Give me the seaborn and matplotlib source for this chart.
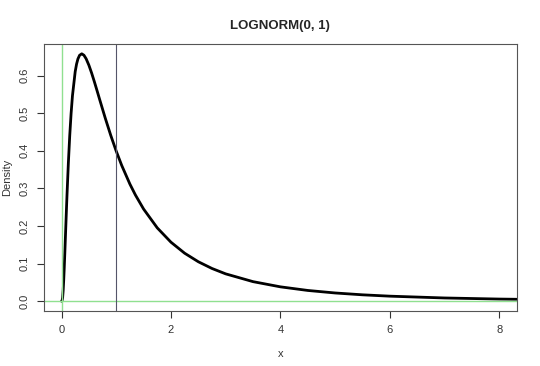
"""Lognormal density plot, R base style"""

import matplotlib
matplotlib.use("Agg")
import matplotlib.pyplot as plt
import seaborn as sns
import pandas as pd

# density values
x_vals = [0.0, 0.01, 0.02, 0.03, 0.04, 0.05, 0.06, 0.075, 0.09, 0.1, 0.125,
          0.15, 0.175, 0.2, 0.25, 0.275, 0.3, 0.33, 0.37, 0.41, 0.45, 0.5,
          0.55, 0.6, 0.65, 0.7, 0.8, 0.9, 1.0, 1.1, 1.25, 1.35, 1.5, 1.75,
          2.0, 2.25, 2.5, 2.75, 3.0, 3.5, 4.0, 4.5, 5.0, 5.5, 6.0, 7.0, 8.0,
          8.32]
density = [0.0, 0.001, 0.0095, 0.0284, 0.0562, 0.0898, 0.1270, 0.1857,
           0.2442, 0.2816, 0.3673, 0.4398, 0.4990, 0.5463, 0.6104, 0.6305,
           0.6442, 0.6538, 0.6577, 0.6539, 0.6445, 0.6275, 0.6067, 0.5836,
           0.5594, 0.5348, 0.4864, 0.4408, 0.3989, 0.3610, 0.3113, 0.2825,
           0.2450, 0.1949, 0.1569, 0.1276, 0.1049, 0.0870, 0.0727, 0.0520,
           0.0382, 0.0286, 0.0219, 0.0170, 0.0134, 0.0086, 0.0057, 0.0051]
x_ticks = [0, 2, 4, 6, 8]
y_ticks = [0.0, 0.1, 0.2, 0.3, 0.4, 0.5, 0.6]

df = pd.DataFrame({"x": x_vals, "Density": density})

sns.set_style("white")
plt.rcParams["font.family"] = ["Liberation Sans", "DejaVu Sans"]

fig = plt.figure(figsize=(5.4, 3.66), dpi=100)
ax = fig.add_axes([0.0815, 0.150, 0.8755, 0.730])

sns.lineplot(data=df, x="x", y="Density", color="black", linewidth=2, ax=ax)
ax.axvline(0, color="#90e090", linewidth=1)
ax.axhline(0, color="#90e090", linewidth=1)
ax.axvline(1, color="#55556a", linewidth=0.8)

ax.set_xlim(-0.32, 8.32)
ax.set_ylim(-0.0263, 0.684)
ax.set_xticks(x_ticks)
ax.set_xticklabels([str(t) for t in x_ticks])
ax.set_yticks(y_ticks)
ax.set_yticklabels([f"{t:.1f}" for t in y_ticks], rotation=90, va="center")
ax.tick_params(direction="out", length=5, width=0.8, labelsize=8,
               color="#333333", labelcolor="#333333", pad=5,
               bottom=True, left=True)
for s in ax.spines.values():
    s.set_color("#555555")
    s.set_linewidth(0.8)

ax.set_xlabel("x", fontsize=8, color="#333333", labelpad=10)
ax.set_ylabel("Density", fontsize=8, color="#333333", labelpad=6)
ax.set_title("LOGNORM(0, 1)", fontsize=9.5, fontweight="bold", pad=11)

fig.savefig("out.png", dpi=100)
